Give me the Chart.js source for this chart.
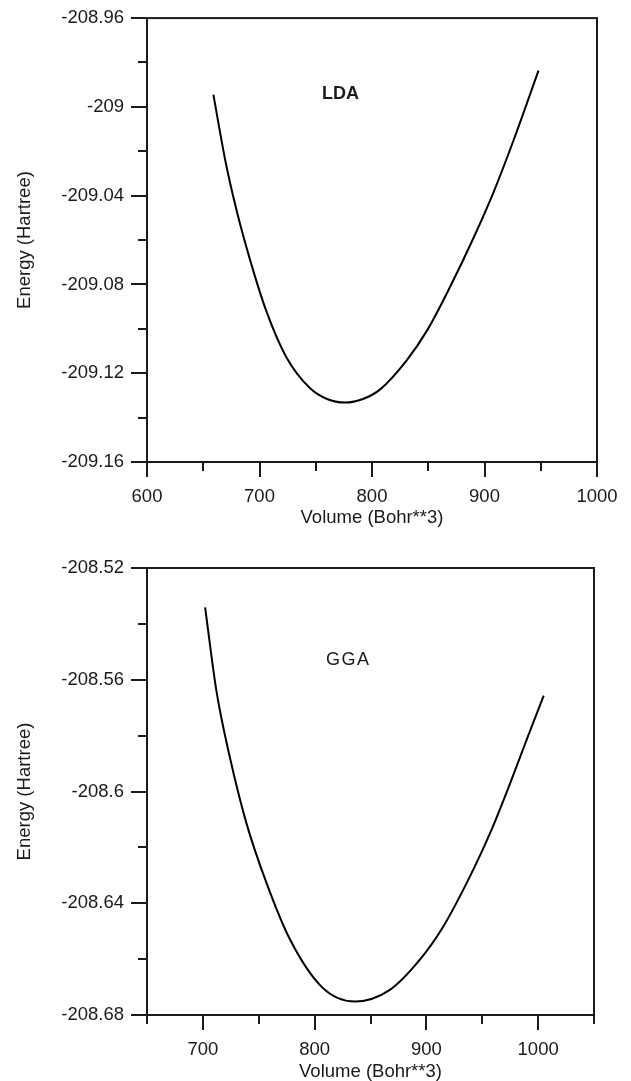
<!DOCTYPE html>
<html>
<head>
<meta charset="utf-8">
<script src="https://cdn.jsdelivr.net/npm/chart.js@4/dist/chart.umd.min.js"></script>
<style>
  html, body { margin: 0; padding: 0; background: #fff; }
  #wrap { position: relative; width: 631px; height: 1081px; }
  canvas { position: absolute; left: 0; }
</style>
</head>
<body>
<div id="wrap">
  <canvas id="ldaChart" width="631" height="540" style="top:0"></canvas>
  <canvas id="ggaChart" width="631" height="541" style="top:540px"></canvas>
</div>
<script>
// ---- data ----
const ldaVolume = [659, 670, 680, 692, 706, 724, 745, 760, 776, 792, 807, 831, 849, 869, 890, 908, 926, 948];
const ldaEnergy = [-208.9945, -209.0252, -209.0474, -209.0696, -209.0919, -209.1129, -209.1268, -209.1316, -209.1332,
                   -209.1316, -209.1274, -209.1141, -209.1007, -209.0815, -209.0593, -209.0385, -209.0148, -208.9837];

const ggaVolume = [702, 712, 724, 739, 757, 778, 807, 836, 867, 894, 915, 936, 957, 975, 992, 1005];
const ggaEnergy = [-208.5341, -208.5637, -208.5875, -208.6114, -208.6328, -208.6530, -208.6702, -208.6752,
                   -208.6711, -208.6603, -208.6484, -208.6328, -208.6149, -208.5970, -208.5791, -208.5657];

// axis ranges / tick steps
const ldaXRange = [600, 1000];
const ldaYRange = [-209.16, -208.96];
const ggaXRange = [650, 1050];
const ggaYRange = [-208.68, -208.52];
const xMajor = 100, xMinor = 50;
const yMajor = 0.04, yMinor = 0.02;

const xTitle = 'Volume (Bohr**3)';
const yTitle = 'Energy (Hartree)';

const FONT = '"Liberation Sans", Arial, sans-serif';
const FSIZE = 18.5;
const INK = '#1a1a1a';

function isMajor(v, step) {
    const r = Math.abs(v / step - Math.round(v / step));
    return r < 1e-6;
}

// frame, major/minor ticks and the in-plot label
const frameTicks = {
    id: 'frameTicks',
    afterDraw(chart, args, opts) {
        const { ctx, chartArea: a, scales: { x, y } } = chart;
        ctx.save();
        ctx.strokeStyle = INK;
        ctx.lineWidth = 2;
        ctx.strokeRect(a.left, a.top, a.right - a.left, a.bottom - a.top);

        ctx.beginPath();
        x.ticks.forEach(t => {
            const px = Math.round(x.getPixelForValue(t.value));
            const len = isMajor(t.value, xMajor) ? 15 : 9;
            ctx.moveTo(px, a.bottom);
            ctx.lineTo(px, a.bottom + len);
        });
        y.ticks.forEach(t => {
            const py = Math.round(y.getPixelForValue(t.value));
            const len = isMajor(t.value, yMajor) ? 16 : 9;
            ctx.moveTo(a.left, py);
            ctx.lineTo(a.left - len, py);
        });
        ctx.stroke();

        // label inside plot
        ctx.fillStyle = INK;
        ctx.font = opts.font;
        if ('letterSpacing' in ctx) ctx.letterSpacing = opts.spacing || '0px';
        ctx.textAlign = 'center';
        ctx.textBaseline = 'middle';
        ctx.fillText(opts.text, x.getPixelForValue(opts.x), y.getPixelForValue(opts.y));
        ctx.restore();
    }
};

function buildChart(id, vols, energies, xr, yr, cfg) {
    const ctx = document.getElementById(id).getContext('2d');
    return new Chart(ctx, {
        type: 'line',
        data: {
            datasets: [{
                data: vols.map((v, i) => ({ x: v, y: energies[i] })),
                borderColor: '#000',
                borderWidth: 2,
                pointRadius: 0,
                cubicInterpolationMode: 'monotone',
                fill: false
            }]
        },
        options: {
            responsive: false,
            animation: false,
            devicePixelRatio: 1,
            layout: { padding: { left: 0, right: cfg.padRight, top: cfg.padTop, bottom: 0 } },
            plugins: {
                legend: { display: false },
                tooltip: { enabled: false },
                frameTicks: cfg.label
            },
            scales: {
                x: {
                    type: 'linear',
                    min: xr[0],
                    max: xr[1],
                    border: { display: false },
                    grid: { display: false, drawTicks: true, tickLength: 15 },
                    ticks: {
                        stepSize: xMinor,
                        autoSkip: false,
                        maxRotation: 0,
                        padding: 9,
                        color: INK,
                        font: { family: FONT, size: FSIZE },
                        callback: v => isMajor(v, xMajor) ? String(Math.round(v)) : ''
                    },
                    title: {
                        display: true,
                        text: xTitle,
                        color: INK,
                        font: { family: FONT, size: FSIZE },
                        padding: { top: 0, bottom: cfg.xTitlePad }
                    },
                    afterFit: s => { s.height = cfg.xAxisHeight; }
                },
                y: {
                    type: 'linear',
                    min: yr[0],
                    max: yr[1],
                    border: { display: false },
                    grid: { display: false, drawTicks: true, tickLength: 16 },
                    ticks: {
                        stepSize: yMinor,
                        autoSkip: false,
                        maxTicksLimit: 20,
                        padding: 7,
                        color: INK,
                        font: { family: FONT, size: FSIZE },
                        callback: v => isMajor(v, yMajor) ? String(Number(v.toFixed(2))) : ''
                    },
                    title: {
                        display: true,
                        text: yTitle,
                        color: INK,
                        font: { family: FONT, size: FSIZE },
                        padding: { top: 14, bottom: 0 }
                    },
                    afterFit: s => { s.width = 147; }
                }
            }
        },
        plugins: [frameTicks]
    });
}

buildChart('ldaChart', ldaVolume, ldaEnergy, ldaXRange, ldaYRange, {
    padRight: 34, padTop: 13, xAxisHeight: 78, xTitlePad: 11,
    label: { text: 'LDA', x: 772, y: -208.994, font: 'bold 18px ' + FONT }
});

buildChart('ggaChart', ggaVolume, ggaEnergy, ggaXRange, ggaYRange, {
    padRight: 37, padTop: 28, xAxisHeight: 66, xTitlePad: -2,
    label: { text: 'GGA', x: 830, y: -208.553, font: '18px ' + FONT, spacing: '1.5px' }
});
</script>
</body>
</html>
